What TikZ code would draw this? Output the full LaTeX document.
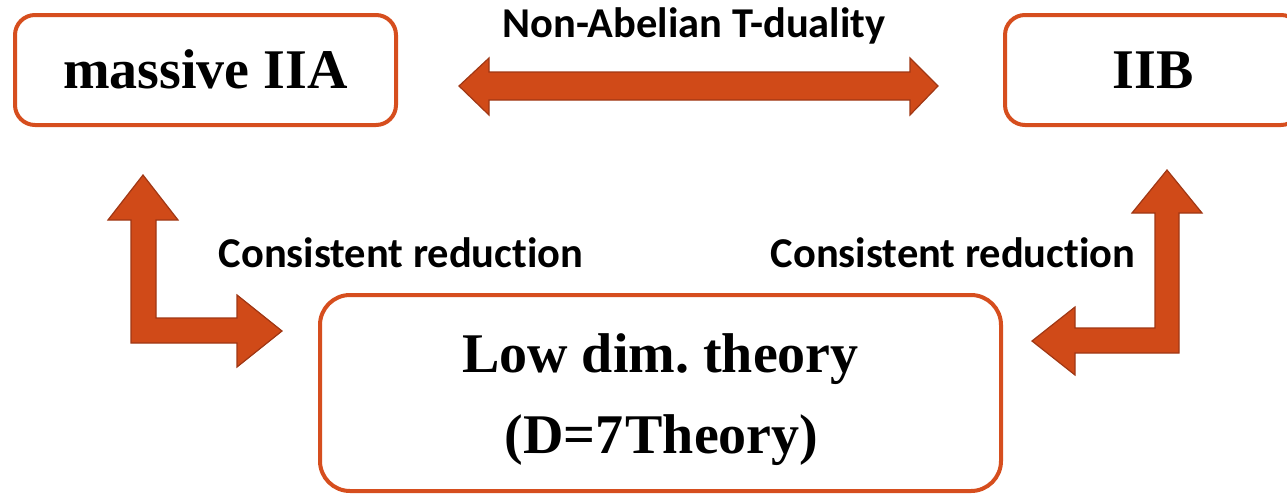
\documentclass[tikz,border=0pt]{standalone}
\usepackage{fontspec}
\setmainfont{Liberation Serif}
\newfontfamily\calib[Ligatures=NoCommon]{Carlito}
\definecolor{boxred}{RGB}{214,78,30}
\definecolor{arrfill}{RGB}{208,74,24}
\definecolor{arredge}{RGB}{160,55,20}
\frenchspacing
\begin{document}
\begin{tikzpicture}[x=1pt,y=-1pt,
  box/.style={draw=boxred,line width=4pt,fill=white,inner sep=0pt},
  blockarrow/.style={fill=arrfill,draw=arredge,line width=1.2pt,line join=miter},
  title/.style={font=\fontsize{56}{81}\selectfont\bfseries,anchor=base,inner sep=0pt,align=center},
  lab/.style={font=\calib\fontsize{42.5}{46}\selectfont\bfseries,anchor=base,inner sep=0pt}]
\useasboundingbox (0,0) rectangle (1287,496);
% boxes
\node[box,minimum width=381pt,minimum height=110pt,rounded corners=20pt] (iia) at (205.5,70) {};
\node[box,minimum width=296pt,minimum height=110pt,rounded corners=20pt] (iib) at (1153,70) {};
\node[box,minimum width=681pt,minimum height=196pt,rounded corners=30pt] (low) at (660.5,393) {};
% box texts
\node[title] (iiat) at (205.5,88) {massive IIA};
\node[title] (iibt) at (1153,88) {IIB};
\node[title] (lowt1) at (660.5,372) {Low dim. theory};
\node[title] (lowt2) at (661.5,453) {(D=7\kern2pt Theory)};
% block arrows
\draw[blockarrow] (459,86) -- (489,58) -- (489,72) -- (910,72) -- (910,58) -- (938,86)
  -- (910,115) -- (910,100) -- (489,100) -- (489,115) -- cycle;
\draw[blockarrow] (143,175) -- (178,220) -- (156,220) -- (156,318) -- (237,318) -- (237,295)
  -- (282,331) -- (237,367) -- (237,343) -- (131,343) -- (131,220) -- (108,220) -- cycle;
\draw[blockarrow] (1167,170) -- (1202,213) -- (1179,213) -- (1179,353) -- (1075,353) -- (1075,375)
  -- (1032,341) -- (1075,307) -- (1075,328) -- (1155,328) -- (1155,213) -- (1132,213) -- cycle;
% labels
\node[lab] (nat) at (694,37) {Non-Abelian T-duality};
\node[lab] (crl) at (401,267) {Consistent reduction};
\node[lab] (crr) at (953,267) {Consistent reduction};
\end{tikzpicture}
\end{document}
